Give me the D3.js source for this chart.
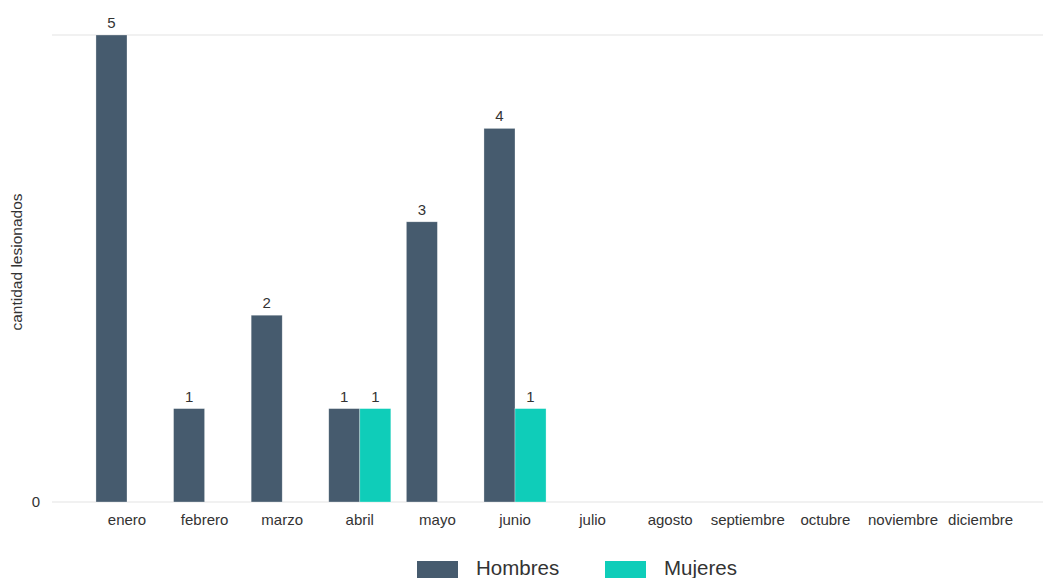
<!DOCTYPE html>
<html><head><meta charset="utf-8">
<script src="https://cdn.jsdelivr.net/npm/d3@7"></script>
<style>body{margin:0;background:#fff;}svg{display:block;font-family:"Liberation Sans",Arial,sans-serif;}</style>
</head><body>
<svg id="c" width="1043" height="578"></svg>
<script>
const months = ["enero","febrero","marzo","abril","mayo","junio","julio","agosto","septiembre","octubre","noviembre","diciembre"];
const seriesNames = ["Hombres","Mujeres"];
const hombres = [5,1,2,1,3,4,null,null,null,null,null,null];
const mujeres = [null,null,null,1,null,1,null,null,null,null,null,null];
const colors = ["#465b6e","#0fcdb9"];
const yTicks = [0,5];

const svg = d3.select("#c");
const y = d3.scaleLinear().domain([0,5]).range([502,35]);
const x = d3.scaleBand().domain(months).range([88.2,1019.4]).paddingInner(0.2).paddingOuter(0.1);
const xs = d3.scaleBand().domain(seriesNames).range([0,x.bandwidth()]);

// gridlines
svg.append("g").selectAll("line").data(yTicks).join("line")
  .attr("x1",52).attr("x2",1043).attr("y1",d=>y(d)).attr("y2",d=>y(d))
  .attr("stroke","#e3e3e3").attr("stroke-width",1.2);

// y tick label (only 0 visible)
svg.append("text").attr("x",36).attr("y",y(0)).attr("dy","0.35em").attr("text-anchor","middle")
  .attr("font-size",15).attr("fill","#333").text("0");

// y title
svg.append("text").attr("transform","translate(22,262) rotate(-90)").attr("text-anchor","middle")
  .attr("font-size",15.5).attr("fill","#333").text("cantidad lesionados");

const series = [hombres, mujeres];
series.forEach((vals,si)=>{
  const data = months.map((m,i)=>({m, v: vals[i]})).filter(d=>d.v!=null);
  const g = svg.append("g");
  g.selectAll("rect").data(data).join("rect")
    .attr("x",d=>x(d.m)+xs(seriesNames[si]))
    .attr("y",d=>y(d.v))
    .attr("width",xs.bandwidth())
    .attr("height",d=>y(0)-y(d.v))
    .attr("fill",colors[si])
    .attr("stroke","#ffffff").attr("stroke-opacity",0.5).attr("stroke-width",0.6);
  g.selectAll("text").data(data).join("text")
    .attr("x",d=>x(d.m)+xs(seriesNames[si])+xs.bandwidth()/2)
    .attr("y",d=>y(d.v)-7)
    .attr("text-anchor","middle").attr("font-size",15).attr("fill","#333")
    .text(d=>d.v);
});

// x labels
svg.append("g").selectAll("text").data(months).join("text")
  .attr("x",d=>x(d)+x.bandwidth()/2).attr("y",520).attr("dy","0.35em")
  .attr("text-anchor","middle").attr("font-size",15).attr("fill","#333").text(d=>d);

// legend
const legendX = [417,605];
seriesNames.forEach((s,i)=>{
  svg.append("rect").attr("x",legendX[i]).attr("y",561).attr("width",41).attr("height",17).attr("fill",colors[i]);
  svg.append("text").attr("x",legendX[i]+59).attr("y",568).attr("dy","0.35em")
    .attr("font-size",20.5).attr("fill","#333").text(s);
});
</script>
</body></html>
